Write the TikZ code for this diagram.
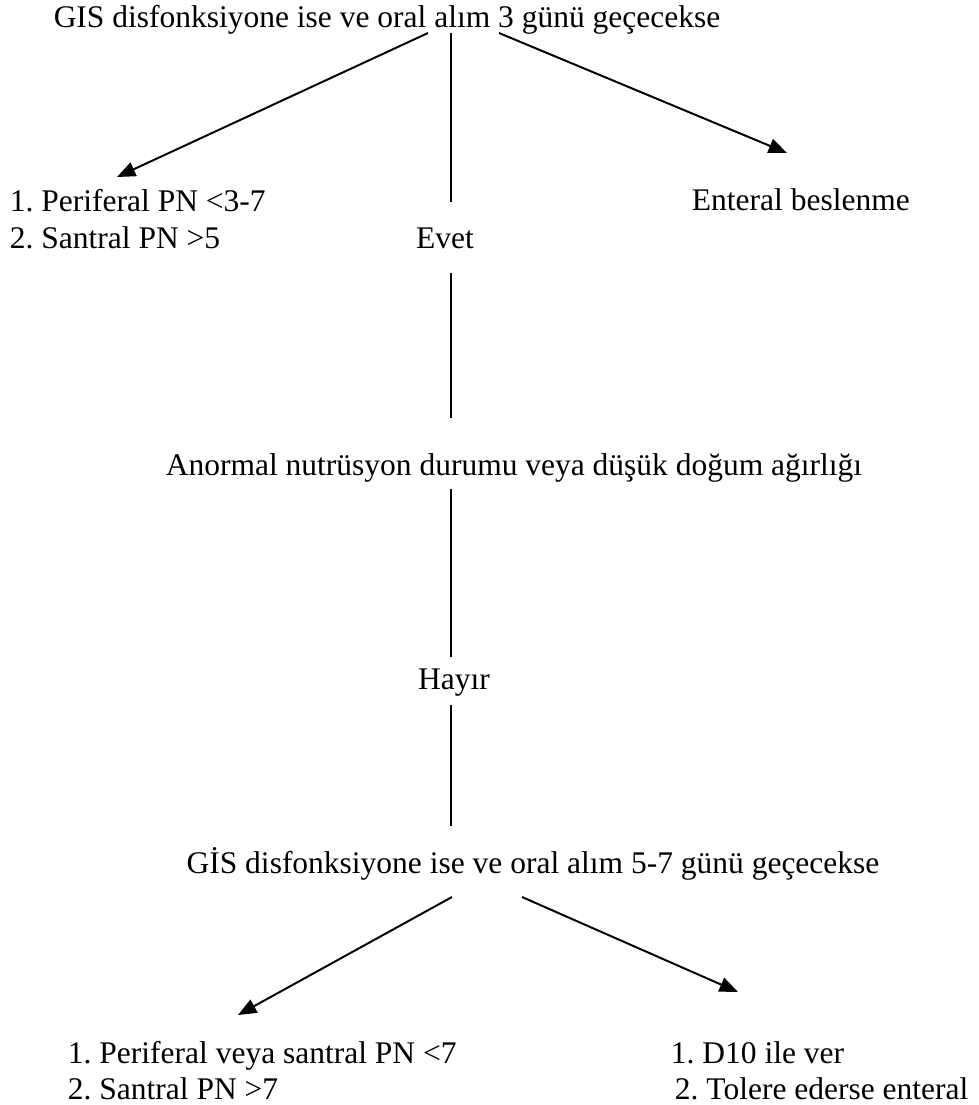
\documentclass[tikz,border=0pt]{standalone}
\usepackage{fontspec}
\setmainfont{Liberation Serif}
\usetikzlibrary{arrows.meta}
\frenchspacing
\tikzset{
  lbl/.style={inner sep=0pt, anchor=base, font=\fontsize{12}{14}\selectfont},
  lblw/.style={lbl, anchor=base west},
  arr/.style={-{Triangle[length=7pt,width=5.6pt]}}
}
\begin{document}
\begin{tikzpicture}[x=0.381pt,y=-0.381pt,line width=0.75pt]
        \useasboundingbox (0,0) rectangle (979,1105);
        % texts
        \node[lbl] (gis3) at (387,27) {GIS disfonksiyone ise ve oral alım 3 günü geçecekse};
        \node[lblw] (pn1) at (9,211) {1. Periferal PN <3-7};
        \node[lblw] (pn2) at (9,248) {2. Santral PN >5};
        \node[lbl] (evet) at (445,248) {Evet};
        \node[lblw] (ent) at (691,210) {Enteral beslenme};
        \node[lbl] (anormal) at (514,475) {Anormal nutrüsyon durumu veya düşük doğum ağırlığı};
        \node[lbl] (hayir) at (454,689) {Hayır};
        \node[lbl] (gis57) at (533,873) {GİS disfonksiyone ise ve oral alım 5-7 günü geçecekse};
        \node[lblw] (ps1) at (67,1063) {1. Periferal veya santral PN <7};
        \node[lblw] (ps2) at (67,1099) {2. Santral PN >7};
        \node[lblw] (d1) at (670,1063) {1. D10 ile ver};
        \node[lblw] (d2) at (674,1099) {2. Tolere ederse enteral};
        % line ends
        \coordinate (gl) at (428,33);
        \coordinate (gm) at (451,33);
        \coordinate (gr) at (499,33);
        \coordinate (pnt) at (117,177);
        \coordinate (entt) at (787,153);
        \coordinate (ev1) at (451,202);
        \coordinate (ev2) at (451,273);
        \coordinate (an1) at (451,418);
        \coordinate (an2) at (451,489);
        \coordinate (ha1) at (451,657);
        \coordinate (ha2) at (451,705);
        \coordinate (gb1) at (451,826);
        \coordinate (bl) at (452,897);
        \coordinate (br) at (522,897);
        \coordinate (pst) at (238,1015);
        \coordinate (dt) at (738,992);
        % connectors
        \draw[arr] (gl) -- (pnt);
        \draw (gm) -- (ev1);
        \draw[arr] (gr) -- (entt);
        \draw (ev2) -- (an1);
        \draw (an2) -- (ha1);
        \draw (ha2) -- (gb1);
        \draw[arr] (bl) -- (pst);
        \draw[arr] (br) -- (dt);
\end{tikzpicture}
\end{document}
